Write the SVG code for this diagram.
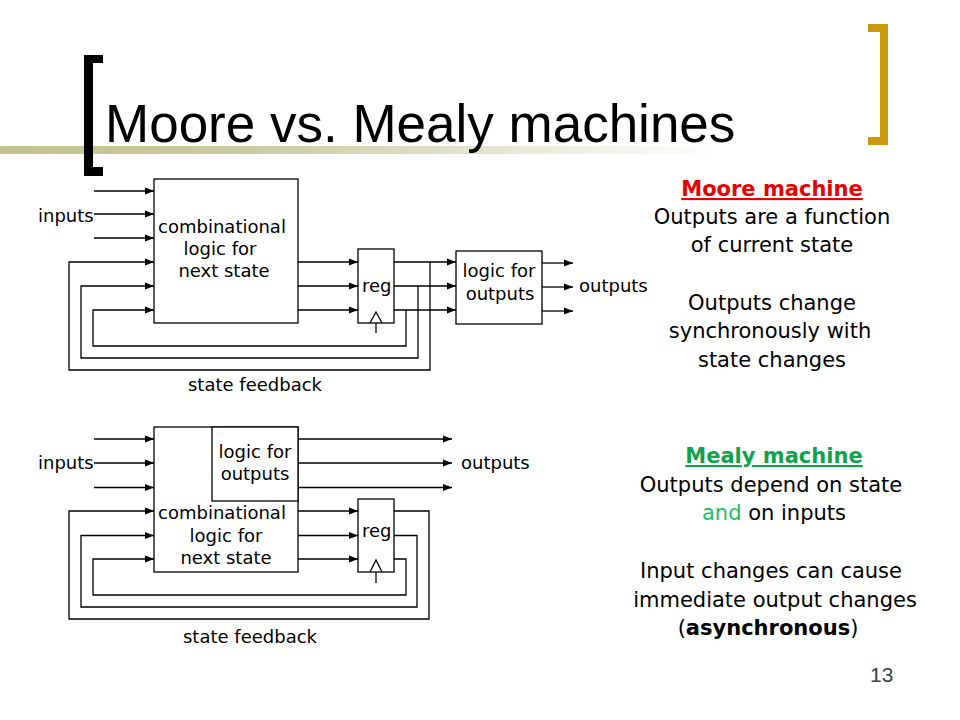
<svg xmlns="http://www.w3.org/2000/svg" width="960" height="720" viewBox="0 0 960 720">
<defs>
<linearGradient id="bar" x1="0" y1="0" x2="720" y2="0" gradientUnits="userSpaceOnUse">
<stop offset="0" stop-color="#c3c18c"/>
<stop offset="0.35" stop-color="#cccaa0"/>
<stop offset="1" stop-color="#ffffff"/>
</linearGradient>
<marker id="ah" markerUnits="userSpaceOnUse" markerWidth="10" markerHeight="8" refX="9" refY="4" orient="auto">
<path d="M0,0.5 L9,4 L0,7.5 Z" fill="#000"/>
</marker>
<style>
.box{fill:#fff;stroke:#000;stroke-width:1.3}
.ln{fill:none;stroke:#000;stroke-width:1.3}
.ar{fill:none;stroke:#000;stroke-width:1.3;marker-end:url(#ah)}
.t{font-family:"DejaVu Sans",Verdana,sans-serif;font-size:18px;fill:#000}
.r{font-family:"DejaVu Sans",Verdana,sans-serif;font-size:21px;fill:#000;text-anchor:middle}
.c{text-anchor:middle}
</style>
</defs>
<rect width="960" height="720" fill="#fff"/>

<g id="title">
<rect x="0" y="146" width="720" height="8" fill="url(#bar)"/>
<path d="M84,55 H103 V63 H93 V167 H103 V176 H84 Z" fill="#000"/>
<path d="M868,24 H888 V145 H868 V137 H880 V32 H868 Z" fill="#c9990a"/>
<text x="105" y="142" font-family="'Liberation Sans',Arial,sans-serif" font-size="53" fill="#000">Moore vs. Mealy machines</text>
</g>

<g id="connectors">
<!-- Moore inputs -->
<line class="ar" x1="94" y1="191" x2="154" y2="191"/>
<line class="ar" x1="94" y1="214" x2="154" y2="214"/>
<line class="ar" x1="94" y1="238" x2="154" y2="238"/>
<!-- Moore comb to reg -->
<line class="ar" x1="298" y1="262" x2="358" y2="262"/>
<line class="ar" x1="298" y1="286" x2="358" y2="286"/>
<line class="ar" x1="298" y1="310" x2="358" y2="310"/>
<!-- Moore reg to logic -->
<line class="ar" x1="394" y1="262" x2="456" y2="262"/>
<line class="ar" x1="394" y1="286" x2="456" y2="286"/>
<line class="ar" x1="394" y1="310" x2="456" y2="310"/>
<!-- Moore outputs -->
<line class="ar" x1="542" y1="263" x2="573" y2="263"/>
<line class="ar" x1="542" y1="287" x2="573" y2="287"/>
<line class="ar" x1="542" y1="311" x2="573" y2="311"/>
<!-- Moore feedback -->
<polyline class="ar" points="430,262 430,370 69,370 69,262 154,262"/>
<polyline class="ar" points="418,286 418,358 81,358 81,286 154,286"/>
<polyline class="ar" points="406,310 406,346 93,346 93,310 154,310"/>
<!-- Moore clock -->
<line class="ln" x1="376" y1="323" x2="376" y2="333"/>

<!-- Mealy inputs -->
<line class="ar" x1="94" y1="439" x2="154" y2="439"/>
<line class="ar" x1="94" y1="463" x2="154" y2="463"/>
<line class="ar" x1="94" y1="487.5" x2="154" y2="487.5"/>
<!-- Mealy outputs -->
<line class="ar" x1="298" y1="439" x2="452" y2="439"/>
<line class="ar" x1="298" y1="463" x2="452" y2="463"/>
<line class="ar" x1="298" y1="487.5" x2="452" y2="487.5"/>
<!-- Mealy comb to reg -->
<line class="ar" x1="298" y1="511" x2="358" y2="511"/>
<line class="ar" x1="298" y1="535.5" x2="358" y2="535.5"/>
<line class="ar" x1="298" y1="559" x2="358" y2="559"/>
<!-- Mealy feedback -->
<polyline class="ar" points="394,511 429,511 429,619 69,619 69,511 154,511"/>
<polyline class="ar" points="394,535.5 417,535.5 417,607 81,607 81,535.5 154,535.5"/>
<polyline class="ar" points="394,559 406,559 406,595 93,595 93,559 154,559"/>
<!-- Mealy clock -->
<line class="ln" x1="376" y1="572" x2="376" y2="583"/>
</g>

<g id="moore-comb">
<rect class="box" x="154" y="179" width="144" height="144"/>
<text class="t c" x="222" y="233">combinational</text>
<text class="t c" x="220" y="255">logic for</text>
<text class="t c" x="224" y="277">next state</text>
</g>
<g id="moore-reg">
<rect class="box" x="358" y="249" width="36" height="74"/>
<text class="t" x="362" y="292">reg</text>
<polyline class="ln" points="370,323 376,312 382,323"/>
</g>
<g id="moore-outlogic">
<rect class="box" x="456" y="251" width="86" height="73"/>
<text class="t c" x="499" y="277">logic for</text>
<text class="t c" x="500" y="300">outputs</text>
</g>
<g id="moore-labels">
<text class="t" x="38" y="222">inputs</text>
<text class="t" x="579" y="292">outputs</text>
<text class="t c" x="255" y="391">state feedback</text>
</g>

<g id="mealy-comb">
<rect class="box" x="154" y="427" width="144" height="145"/>
<text class="t c" x="222" y="519">combinational</text>
<text class="t c" x="226" y="542">logic for</text>
<text class="t c" x="226" y="564">next state</text>
</g>
<g id="mealy-outlogic">
<rect class="box" x="212" y="427" width="86" height="74"/>
<text class="t c" x="255" y="458">logic for</text>
<text class="t c" x="255" y="480">outputs</text>
</g>
<g id="mealy-reg">
<rect class="box" x="358" y="499" width="36" height="73"/>
<text class="t" x="362" y="537">reg</text>
<polyline class="ln" points="370,572 376,560 382,572"/>
</g>
<g id="mealy-labels">
<text class="t" x="38" y="469">inputs</text>
<text class="t" x="461" y="469">outputs</text>
<text class="t c" x="250" y="643">state feedback</text>
</g>

<g id="moore-text">
<text class="r" x="772" y="196" font-weight="bold" fill="#e60000" text-decoration="underline" style="fill:#e60000">Moore machine</text>
<text class="r" x="772" y="224">Outputs are a function</text>
<text class="r" x="772" y="252">of current state</text>
<text class="r" x="772" y="310">Outputs change</text>
<text class="r" x="770" y="338">synchronously with</text>
<text class="r" x="772" y="367">state changes</text>
</g>
<g id="mealy-text">
<text class="r" x="774" y="463" font-weight="bold" text-decoration="underline" style="fill:#0ea24e">Mealy machine</text>
<text class="r" x="771" y="492">Outputs depend on state</text>
<text class="r" x="774" y="520"><tspan style="fill:#1dbf62">and</tspan> on inputs</text>
<text class="r" x="771" y="578">Input changes can cause</text>
<text class="r" x="775" y="607">immediate output changes</text>
<text class="r" x="768" y="635">(<tspan font-weight="bold">asynchronous</tspan>)</text>
</g>
<text x="870" y="682" font-family="'Liberation Sans',Arial,sans-serif" font-size="21" fill="#404040">13</text>
</svg>
